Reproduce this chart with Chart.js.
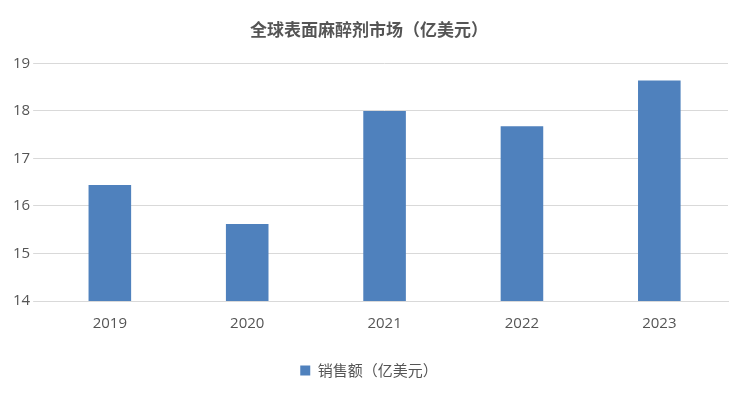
<!DOCTYPE html>
<html><head><meta charset="utf-8">
<script src="https://cdn.jsdelivr.net/npm/chart.js@4"></script>
<style>html,body{margin:0;background:#fff}#w{width:750px;height:404px}</style>
</head><body><div id="w"><canvas id="c"></canvas></div>
<script>
const categories=['2019','2020','2021','2022','2023'];
const sales=[16.44,15.62,18.0,17.68,18.64];
const yTicks={min:14,max:19,step:1};
new Chart(document.getElementById('c'),{
type:'bar',
data:{labels:categories,datasets:[{label:'销售额（亿美元）',data:sales,backgroundColor:'#4f81bd',barPercentage:0.31,categoryPercentage:1}]},
options:{responsive:true,maintainAspectRatio:false,animation:false,
layout:{padding:{left:10,right:22,top:13,bottom:16}},
plugins:{title:{display:true,text:'全球表面麻醉剂市场（亿美元）',color:'#555',font:{family:'Noto Sans CJK SC',size:17,weight:'bold'},padding:{top:6,bottom:24}},
legend:{position:'bottom',labels:{boxWidth:10,boxHeight:10,color:'#555',font:{family:'Noto Sans CJK SC',size:15},padding:24}}},
scales:{x:{grid:{display:false},border:{color:'#d9d9d9'},ticks:{color:'#555',padding:6,font:{family:'Open Sans',size:15}}},
y:{min:yTicks.min,max:yTicks.max,ticks:{stepSize:yTicks.step,color:'#555',font:{family:'Open Sans',size:15}},grid:{color:'#d9d9d9'},border:{display:false}}}}
});
</script></body></html>
